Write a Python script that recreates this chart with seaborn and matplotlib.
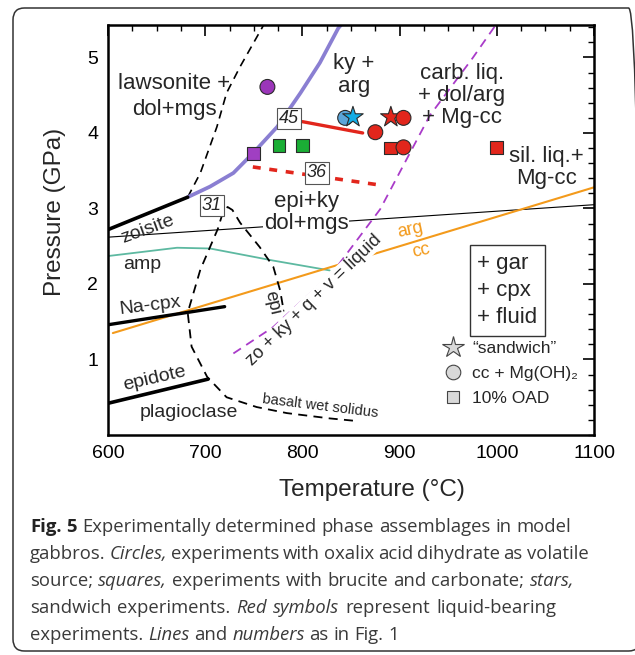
import matplotlib
matplotlib.use("Agg")
import matplotlib.pyplot as plt
import seaborn as sns
from matplotlib.patches import FancyBboxPatch
from matplotlib.lines import Line2D
from matplotlib.ticker import MultipleLocator

# ---- phase boundaries (T in degC, P in GPa) ----
lilac_t = [682, 705, 729, 749, 774, 798, 818, 837, 841]
lilac_p = [3.15, 3.29, 3.47, 3.73, 4.08, 4.53, 4.93, 5.39, 5.45]
zoisite_t = [600, 682]
zoisite_p = [2.72, 3.15]
lawsonite_t = [682, 695, 712, 722, 736, 761]
lawsonite_p = [3.15, 3.47, 4.08, 4.53, 4.88, 5.45]
nacpx_t = [600, 720]
nacpx_p = [1.46, 1.70]
epidote_t = [600, 703]
epidote_p = [0.42, 0.74]
thin_t = [600, 1100]
thin_p = [2.62, 3.05]
amp_t = [600, 671, 705, 770, 828]
amp_p = [2.37, 2.48, 2.47, 2.31, 2.18]
argcc_t = [605, 1100]
argcc_p = [1.35, 3.28]
liquid_t = [729, 770, 831, 880, 931, 975, 1000]
liquid_p = [1.08, 1.43, 2.15, 2.99, 4.23, 4.99, 5.45]
epi_t = [852, 828, 784, 753, 722, 702, 686, 682, 695, 713, 718, 723, 728, 736, 756, 770, 777, 780]
epi_p = [0.19, 0.22, 0.29, 0.37, 0.50, 0.77, 1.17, 1.62, 2.19, 2.73, 2.94, 3.02, 2.98, 2.81, 2.49, 2.23, 1.92, 1.70]
run45_t = [800, 862]
run45_p = [4.15, 4.00]
run36_t = [749, 880]
run36_p = [3.55, 3.31]

# ---- experiments ----
exp_t = [764, 750, 776, 800, 844, 852, 875, 891, 904, 891, 904, 1000]
exp_p = [4.61, 3.73, 3.83, 3.83, 4.20, 4.21, 4.01, 4.21, 4.20, 3.80, 3.81, 3.81]
exp_kind = ["circle", "square", "square", "square", "circle", "star",
            "circle", "star", "circle", "square", "circle", "square"]
exp_colour = ["#9b36b9", "#a03fc2", "#1aae35", "#1aae35", "#5ba6da", "#14ade6",
              "#e2261c", "#e2261c", "#e2261c", "#e2261c", "#e2261c", "#e2261c"]

legend_labels = ["\u201csandwich\u201d", "cc + Mg(OH)\u2082", "10% OAD"]

caption_lines = [
    "*Fig. 5* Experimentally determined phase assemblages in model",
    "gabbros. _Circles,_ experiments with oxalix acid dihydrate as volatile",
    "source; _squares,_ experiments with brucite and carbonate; _stars,_",
    "sandwich experiments. _Red symbols_ represent liquid-bearing",
    "experiments. _Lines_ and _numbers_ as in Fig. 1",
]

W, H = 635, 655
sns.set_theme(style="white")
plt.rcParams["font.family"] = ["Liberation Sans", "DejaVu Sans"]

fig = plt.figure(figsize=(W / 100, H / 100), dpi=100)
ax = fig.add_axes([108 / W, 1 - 435 / H, (594 - 108) / W, 410 / H])


def line(t, p, **kw):
    sns.lineplot(x=t, y=p, sort=False, estimator=None, ax=ax, **kw)


line(thin_t, thin_p, color="black", lw=0.8, zorder=2)
line(amp_t, amp_p, color="#5db9a1", lw=1.3, zorder=2)
line(argcc_t, argcc_p, color="#f39a1b", lw=1.5, zorder=2)
line(liquid_t, liquid_p, color="#a93bc9", lw=1.3, linestyle=(0, (5, 3.5)), zorder=2)
line(epi_t, epi_p, color="black", lw=1.3, linestyle=(0, (5, 3.5)), zorder=2)
line(lawsonite_t, lawsonite_p, color="black", lw=1.2, linestyle=(0, (5, 3.5)), zorder=2)
line(lilac_t, lilac_p, color="#8a7fd2", lw=2.7, zorder=2.5)
line(zoisite_t, zoisite_p, color="black", lw=2.6, zorder=2.5)
line(nacpx_t, nacpx_p, color="black", lw=2.4, zorder=2.5)
line(epidote_t, epidote_p, color="black", lw=2.6, zorder=2.5)
line(run45_t, run45_p, color="#e2261c", lw=2.4, zorder=2.5)
line(run36_t, run36_p, color="#e2261c", lw=2.6, linestyle=(0, (2.2, 2.4)), zorder=2.5)

sns.scatterplot(x=exp_t, y=exp_p, hue=exp_colour, palette={c: c for c in exp_colour},
                style=exp_kind, markers={"circle": "o", "square": "s", "star": "*"},
                size=exp_kind, sizes={"circle": 115, "square": 85, "star": 240},
                edgecolor="#2a2a2a", linewidth=0.8, legend=False, ax=ax, zorder=5)

ax.set_xlim(600, 1100)
ax.set_ylim(0, 5.43)
ax.set_xticks([600, 700, 800, 900, 1000, 1100])
ax.set_yticks([1, 2, 3, 4, 5])
ax.xaxis.set_minor_locator(MultipleLocator(25))
ax.yaxis.set_minor_locator(MultipleLocator(0.2))
ax.tick_params(which="both", direction="in", top=True, right=True, colors="black")
ax.tick_params(which="major", length=8, width=1.2, labelsize=14, pad=7)
ax.tick_params(which="minor", length=4.5, width=1.0)
for s in ax.spines.values():
    s.set_color("black")
    s.set_linewidth(1.8)
ax.set_xlabel("")
ax.set_ylabel("")

# region labels
big = dict(fontsize=16, ha="center", va="center", zorder=3, linespacing=1.05)
ax.text(668, 4.48, "lawsonite +\ndol+mgs", **{**big, "linespacing": 1.3})
ax.text(853, 4.77, "ky +\narg", **{**big, "linespacing": 1.15})
ax.text(964, 4.50, "carb. liq.\n+ dol/arg\n+ Mg-cc", **big)
ax.text(1051, 3.54, "sil. liq.+\nMg-cc", **big)
ax.text(804, 2.95, "epi+ky\ndol+mgs", bbox=dict(fc="white", ec="none", pad=0.5), **big)
mid = dict(fontsize=14, ha="center", va="center", zorder=3)
ax.text(641, 2.72, "zoisite", rotation=20, **mid)
ax.text(635, 2.26, "amp", **mid)
ax.text(643, 1.71, "Na-cpx", rotation=7, **mid)
ax.text(648, 0.75, "epidote", rotation=13, **mid)
ax.text(683, 0.30, "plagioclase", **mid)
ax.text(818, 0.38, "basalt wet solidus", rotation=-7, fontsize=10.5, ha="center", va="center", zorder=3)
ax.text(769, 1.75, "epi", rotation=-77, fontsize=13, ha="center", va="center", zorder=3)
ax.text(812, 1.79, "zo + ky + q + v = liquid", rotation=44, fontsize=13, ha="center", va="center",
        rotation_mode="anchor", zorder=3, bbox=dict(fc="white", ec="none", pad=0.3))
ax.text(911, 2.72, "arg", rotation=12, fontsize=13, color="#f39a1b", ha="center", va="center")
ax.text(922, 2.44, "cc", rotation=12, fontsize=13, color="#f39a1b", ha="center", va="center")
ax.text(1011, 1.91, "+ gar\n+ cpx\n+ fluid", fontsize=16, ha="center", va="center",
        multialignment="left", linespacing=1.38, zorder=3,
        bbox=dict(boxstyle="square,pad=0.35", fc="white", ec="#333333", lw=1.0))
num = dict(fontsize=13, style="italic", ha="center", va="center", zorder=4,
           bbox=dict(boxstyle="square,pad=0.12", fc="white", ec="#555555", lw=0.8))
ax.text(786, 4.19, "45", **num)
ax.text(815, 3.47, "36", **num)
ax.text(707, 3.04, "31", **num)

handles = [
    Line2D([], [], ls="", marker="*", ms=16, mfc="#d9d9d9", mec="#444444", mew=0.8),
    Line2D([], [], ls="", marker="o", ms=10.5, mfc="#d9d9d9", mec="#444444", mew=0.8),
    Line2D([], [], ls="", marker="s", ms=8.5, mfc="#d9d9d9", mec="#444444", mew=0.8),
]
ax.legend(handles, legend_labels, loc="upper left", bbox_to_anchor=(0.688, 0.23),
          frameon=False, fontsize=12.5, handlelength=1.2, handletextpad=0.5,
          labelspacing=0.56, borderpad=0, borderaxespad=0)

fig.text(55 / W, 1 - 212 / H, "Pressure (GPa)", rotation=90, fontsize=17.5, ha="center", va="center")
fig.text(372 / W, 1 - 490 / H, "Temperature (\u00b0C)", fontsize=17.5, ha="center", va="center")

# frame around figure + caption
fig.patches.append(FancyBboxPatch((13 / W, 4 / H), (640 - 13) / W, (647 - 4) / H,
                                  boxstyle="round,pad=0,rounding_size=0.018",
                                  transform=fig.transFigure, fc="none", ec="#333333", lw=1.1))

renderer = fig.canvas.get_renderer()
cap_font = ["Open Sans", "DejaVu Sans"]
cap_size = 13.3


def raw_width(s, bold, ital):
    t = fig.text(0, 0, s, fontsize=cap_size, family=cap_font,
                 fontweight="bold" if bold else "normal", fontstyle="italic" if ital else "normal")
    w = t.get_window_extent(renderer).width
    t.remove()
    return w


def text_width(s, bold, ital):
    # advance width, without the bounding-box overhang
    return raw_width("|" + s + "|", bold, ital) - raw_width("||", bold, ital)


space_w = raw_width("n n", False, False) - raw_width("nn", False, False)
state = {"b": False, "i": False}
baselines = [532, 559, 586, 613, 640]
targets = [571, 582, 574, 556, None]
for raw, base, target in zip(caption_lines, baselines, targets):
    words = []
    for piece in raw.split(" "):
        segs, buf = [], ""
        for ch in piece:
            if ch in "*_":
                if buf:
                    segs.append((buf, state["b"], state["i"]))
                    buf = ""
                key = "b" if ch == "*" else "i"
                state[key] = not state[key]
            else:
                buf += ch
        if buf:
            segs.append((buf, state["b"], state["i"]))
        words.append(segs)
    widths = [sum(text_width(s, b, i) for s, b, i in w) for w in words]
    gap = space_w
    if target is not None and len(words) > 1:
        gap = max(space_w * 0.8, (target - 30 - sum(widths)) / (len(words) - 1))
    x = 30
    for w, wd in zip(words, widths):
        xx = x
        for s, b, i in w:
            fig.text(xx / W, 1 - base / H, s, fontsize=cap_size, family=cap_font,
                     color="#222222" if b else "#3a3a3a",
                     fontweight="bold" if b else "normal",
                     fontstyle="italic" if i else "normal", va="baseline", ha="left")
            xx += text_width(s, b, i)
        x += wd + gap

fig.savefig("out.png", dpi=100)
